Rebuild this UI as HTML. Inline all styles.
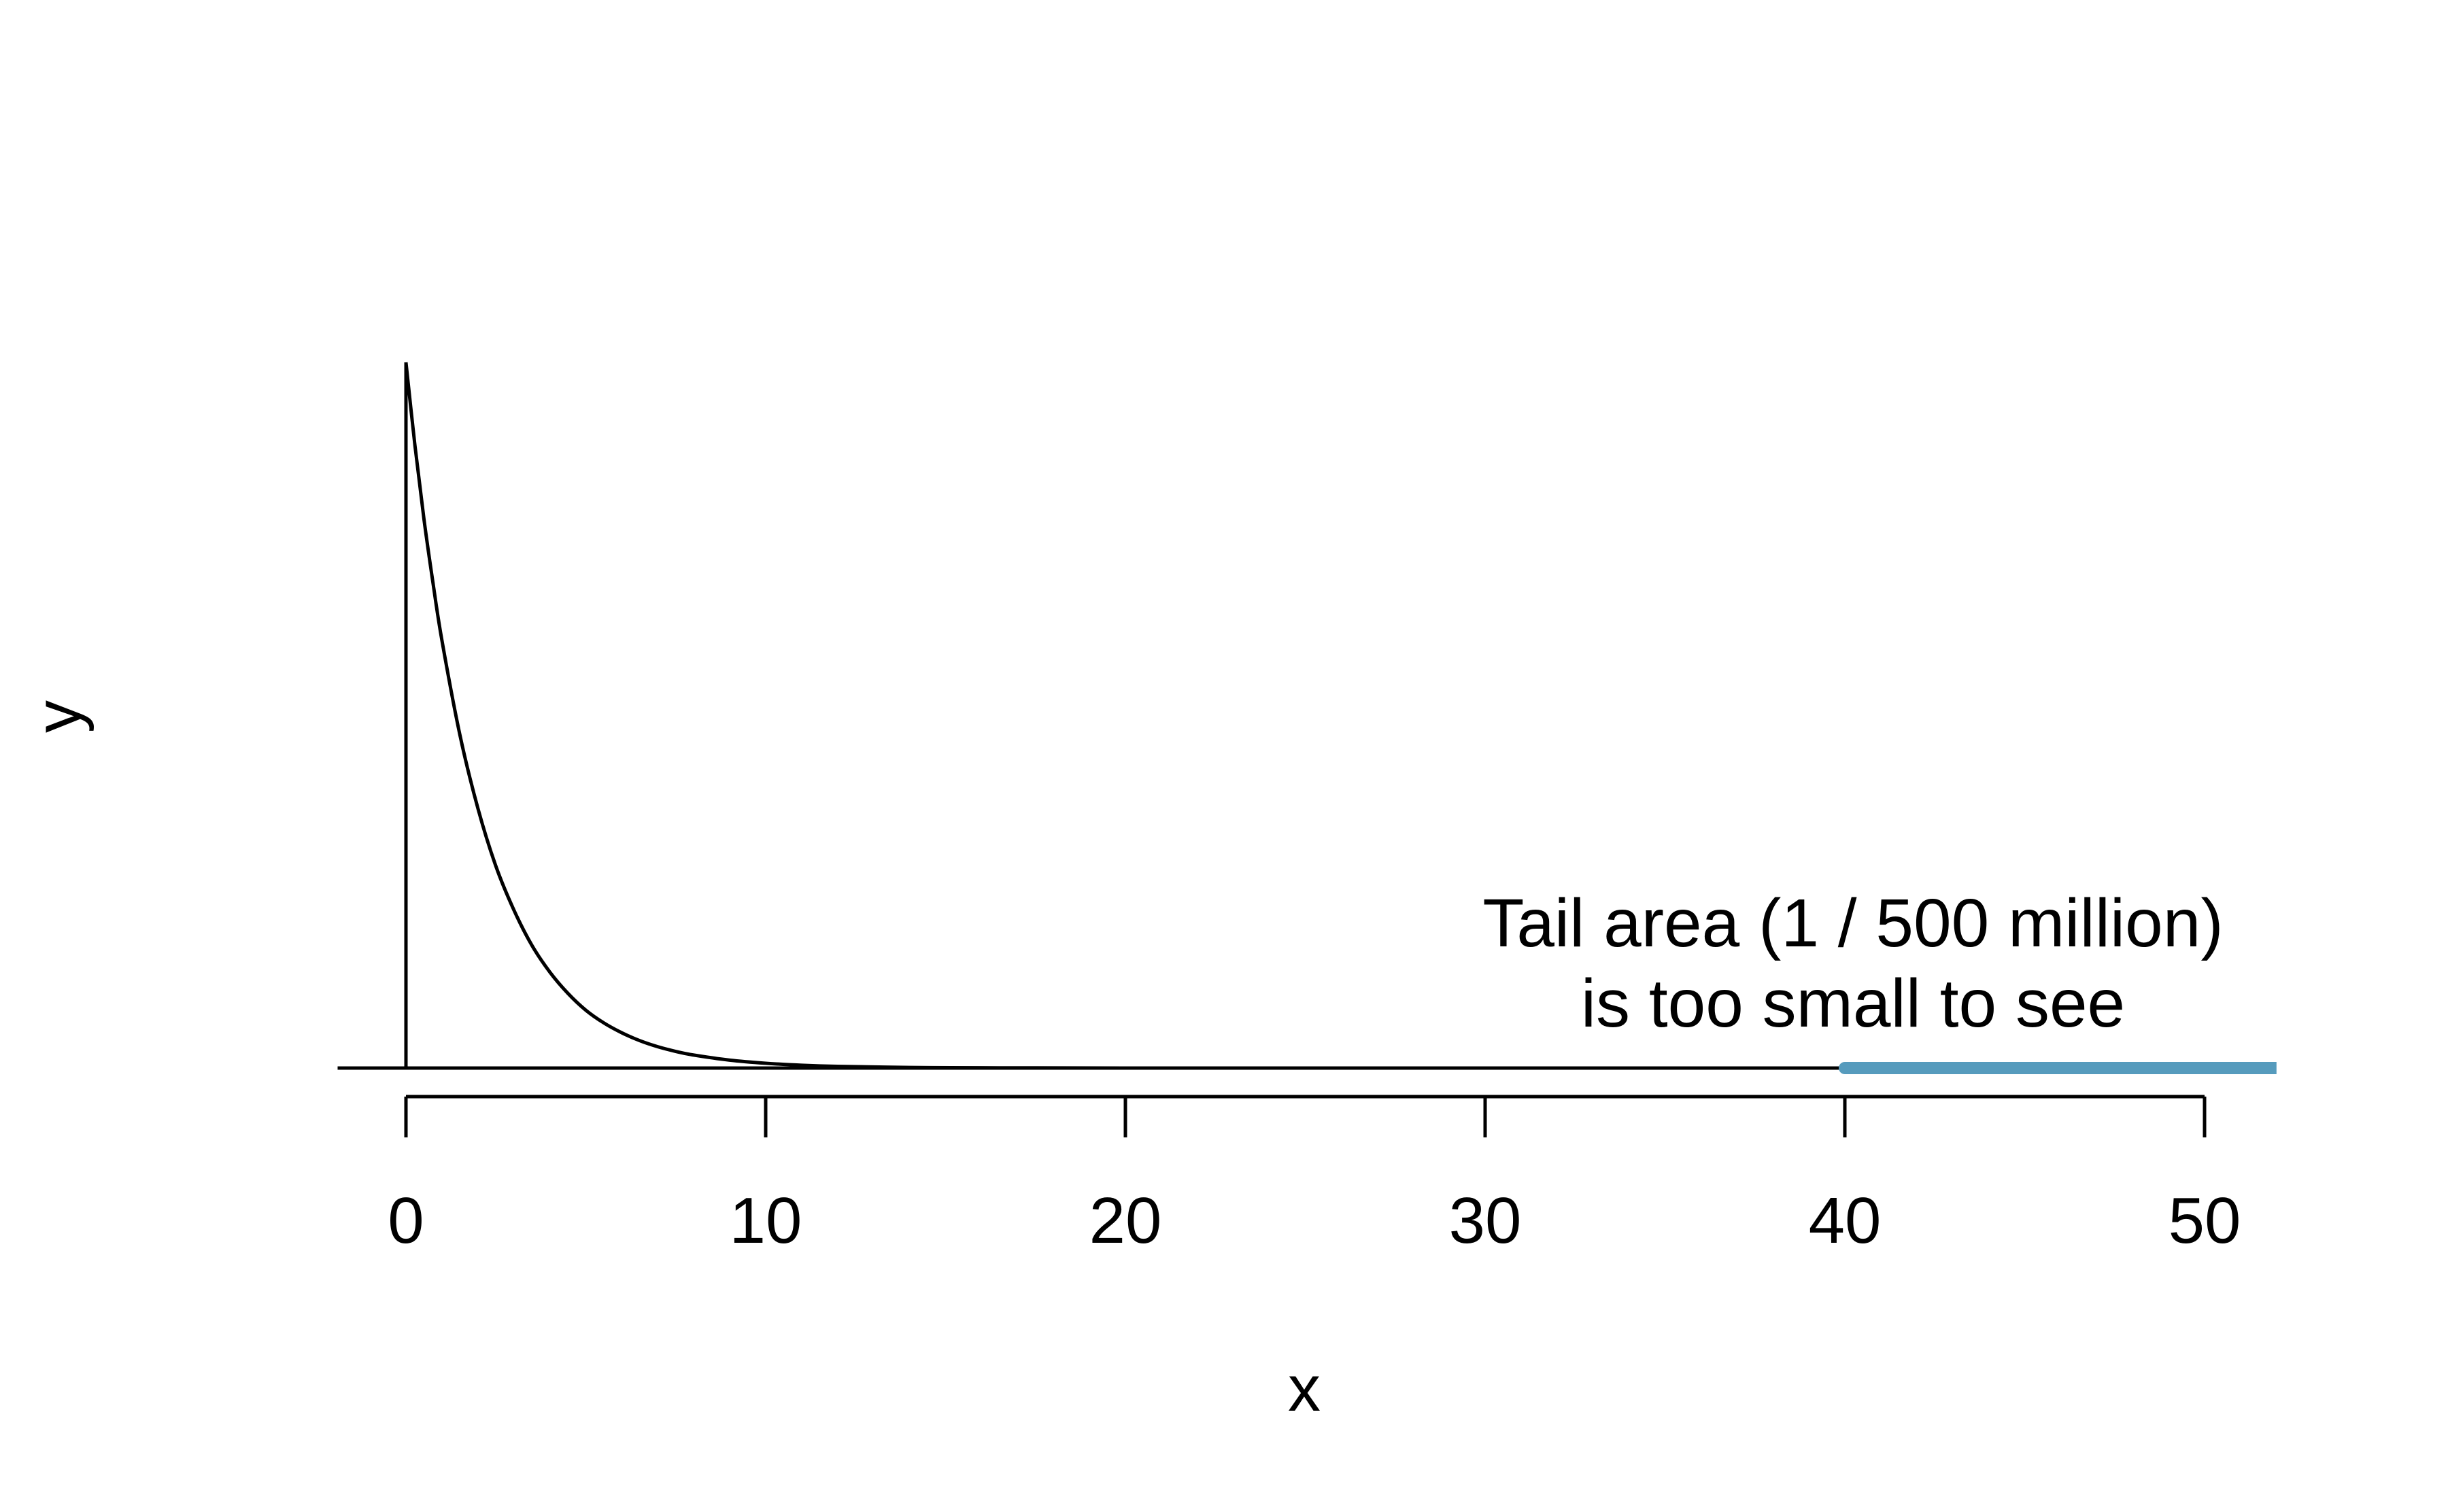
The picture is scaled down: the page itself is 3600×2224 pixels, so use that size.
<!DOCTYPE html>
<html><head><meta charset="utf-8"><style>
html,body{margin:0;padding:0;background:#fff;}
svg{display:block;font-family:"Liberation Sans",Arial,sans-serif;}
</style></head><body>
<svg id="chart" width="3600" height="2224" viewBox="0 0 3600 2224" xmlns="http://www.w3.org/2000/svg">
<rect width="3600" height="2224" fill="#fff"/>
<g id="axis"></g>
<g id="marks"></g>
<text x="1918" y="2075" font-size="96" text-anchor="middle">x</text>
<text x="0" y="0" font-size="96" text-anchor="middle" transform="translate(118,1054) rotate(-90)">y</text>
<text x="2725" y="1392" font-size="100" text-anchor="middle">Tail area (1 / 500 million)</text>
<text x="2725" y="1510" font-size="100" text-anchor="middle">is too small to see</text>
</svg>
<script>
const xs = [0,0.25,0.5,0.75,1,1.5,2,2.5,3,3.5,4,4.5,5,5.5,6,6.5,7,7.5,8,9,10,11,12,14,16,20,30,40];
const ys = [0.5,0.441,0.389,0.344,0.303,0.236,0.184,0.143,0.112,0.087,0.068,0.053,0.041,0.032,0.025,0.0194,0.0151,0.0118,0.0092,0.0056,0.0034,0.002,0.0012,0.00045,0.00017,0.00002,0,0];
const tickValues = [0,10,20,30,40,50];
const tickLabels = ["0","10","20","30","40","50"];
const tailStart = 40;
const tailEnd = 52;
const xMinLine = -1.9;
const yMax = 0.5;

const NS = "http://www.w3.org/2000/svg";
const X = v => 597 + v * 52.9;
const Y = v => 1571 - v / yMax * 1038;
function mk(tag, attrs, parent){const e=document.createElementNS(NS,tag);for(const k in attrs)e.setAttribute(k,attrs[k]);parent.appendChild(e);return e;}
const axis = document.getElementById('axis');
const marks = document.getElementById('marks');

const al = mk('line',{x1:X(tickValues[0]),x2:X(tickValues[tickValues.length-1]),y1:1613,y2:1613,stroke:'#000','stroke-width':5},axis);


tickValues.forEach((t,i)=>{
  const tk = mk('line',{x1:X(t),x2:X(t),y1:1613,y2:1673,stroke:'#000','stroke-width':5},axis);
  
  
  const lb = mk('text',{x:X(t),y:1828,'font-size':96,'text-anchor':'middle'},axis);
  lb.textContent = tickLabels[i];
  
  
});

const base = mk('line',{x1:X(xMinLine),x2:X(tailStart),y1:Y(0),y2:Y(0),stroke:'#000','stroke-width':5},marks);


const vl = mk('line',{x1:X(0),x2:X(0),y1:Y(0),y2:Y(ys[0]),stroke:'#000','stroke-width':5},marks);



const pts = xs.map((x,i)=>[X(x),Y(ys[i])]);
let d = 'M'+pts[0][0]+','+pts[0][1];
for(let i=0;i<pts.length-1;i++){
  const p0=pts[Math.max(0,i-1)],p1=pts[i],p2=pts[i+1],p3=pts[Math.min(pts.length-1,i+2)];
  const c1=[p1[0]+(p2[0]-p0[0])/6,p1[1]+(p2[1]-p0[1])/6];
  const c2=[p2[0]-(p3[0]-p1[0])/6,p2[1]-(p3[1]-p1[1])/6];
  d+=' C'+c1[0]+','+c1[1]+' '+c2[0]+','+c2[1]+' '+p2[0]+','+p2[1];
}
const curve = mk('path',{d:d,fill:'none',stroke:'#000','stroke-width':5,'stroke-linejoin':'round'},marks);



const tail = mk('line',{x1:X(tailStart),x2:X(tailEnd),y1:Y(0),y2:Y(0),stroke:'#569BBD','stroke-width':18},marks);


mk('circle',{cx:X(tailStart),cy:Y(0),r:9,fill:'#569BBD'},marks);
</script>
</body></html>
